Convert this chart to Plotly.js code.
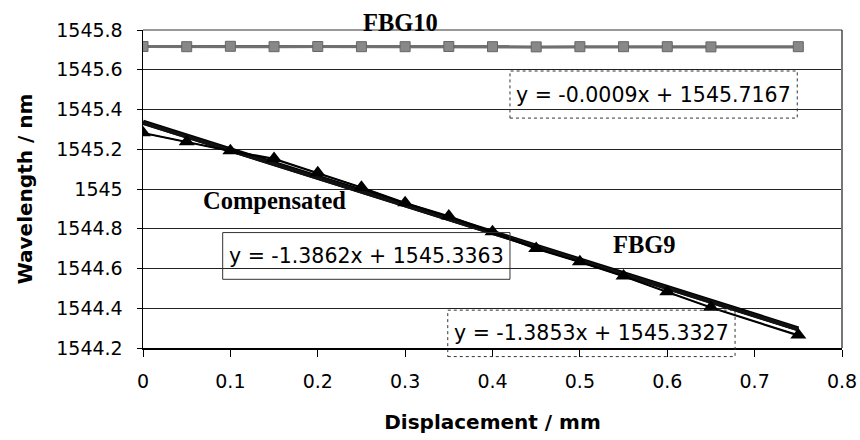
<!DOCTYPE html>
<html>
<head>
<meta charset="utf-8">
<script src="https://cdn.plot.ly/plotly-3.0.1.min.js"></script>
<style>html,body{margin:0;padding:0;background:#fff;}#chart{width:860px;height:440px;}</style>
</head>
<body>
<div id="chart"></div>
<script>
// Data
const displacement = [0, 0.05, 0.1, 0.15, 0.2, 0.25, 0.3, 0.35, 0.4, 0.45, 0.5, 0.55, 0.6, 0.65, 0.75];
const fbg10 = [1545.717, 1545.716, 1545.718, 1545.716, 1545.717, 1545.716, 1545.716, 1545.717, 1545.716, 1545.715, 1545.716, 1545.716, 1545.716, 1545.715, 1545.716];
const fbg9 = [1545.283, 1545.238, 1545.193, 1545.154, 1545.082, 1545.009, 1544.931, 1544.864, 1544.785, 1544.701, 1544.634, 1544.562, 1544.483, 1544.405, 1544.265];
const compensated = [1545.280, 1545.235, 1545.190, 1545.150, 1545.079, 1545.006, 1544.928, 1544.861, 1544.781, 1544.698, 1544.631, 1544.559, 1544.480, 1544.402, 1544.262];
// Trendline coefficients [slope, intercept]
const trendFBG10 = [-0.0009, 1545.7167];
const trendFBG9 = [-1.3862, 1545.3363];
const trendComp = [-1.3853, 1545.3327];
const trendX = [0, 0.75];
const xTicks = [0, 0.1, 0.2, 0.3, 0.4, 0.5, 0.6, 0.7, 0.8];
const xTickText = ['0', '0.1', '0.2', '0.3', '0.4', '0.5', '0.6', '0.7', '0.8'];
const yTicks = [1544.2, 1544.4, 1544.6, 1544.8, 1545.0, 1545.2, 1545.4, 1545.6, 1545.8];
const yTickText = ['1544.2', '1544.4', '1544.6', '1544.8', '1545', '1545.2', '1545.4', '1545.6', '1545.8'];
const eqFBG10 = 'y = -0.0009x + 1545.7167';
const eqFBG9 = 'y = -1.3862x + 1545.3363';
const eqComp = 'y = -1.3853x + 1545.3327';

function trendY(c) { return trendX.map(x => c[0] * x + c[1]); }

const traces = [
  {x: trendX, y: trendY(trendFBG10), mode: 'lines', line: {color: '#555', width: 3}, hoverinfo: 'skip'},
  {x: displacement, y: fbg10, mode: 'lines+markers', line: {color: '#707070', width: 3},
   marker: {symbol: 'square', size: 10, color: '#888', line: {color: '#666', width: 1}}},
  {x: trendX, y: trendY(trendFBG9), mode: 'lines', line: {color: '#000', width: 5}, hoverinfo: 'skip'},
  {x: trendX, y: trendY(trendComp), mode: 'lines', line: {color: '#111', width: 4}, hoverinfo: 'skip'},
  {x: displacement, y: compensated, mode: 'lines', line: {color: '#000', width: 1.5}},
  {x: displacement, y: fbg9, mode: 'lines+markers', line: {color: '#000', width: 1.5},
   marker: {symbol: 'triangle-up', size: 14, color: '#000'}}
];

const tf = {family: 'DejaVu Sans, sans-serif', size: 19, color: '#000'};
const ef = {family: 'DejaVu Sans, sans-serif', size: 20.5, color: '#000'};
const ttf = {family: 'DejaVu Sans, sans-serif', size: 20, color: '#000'};
const sf = {family: 'Liberation Serif, Times New Roman, serif', size: 24.5, color: '#000'};

function ann(x, y, text, font) {
  return {xref: 'paper', yref: 'paper', x: x, y: y, xanchor: 'center', yanchor: 'middle', text: text, showarrow: false, font: font};
}

const layout = {
  width: 860, height: 440,
  margin: {l: 143, r: 18, t: 30, b: 92},
  paper_bgcolor: '#fff', plot_bgcolor: '#fff',
  showlegend: false,
  font: tf,
  xaxis: {
    range: [0, 0.8], tickvals: xTicks, ticktext: xTickText,
    showgrid: false, zeroline: false, showline: true, linecolor: '#000', linewidth: 1.5,
    ticks: 'outside', ticklen: 7, tickcolor: '#000', tickfont: tf, ticklabelstandoff: 9,
    title: {text: '<b>Displacement / mm</b>', font: ttf, standoff: 23}
  },
  yaxis: {
    range: [1544.2, 1545.8], tickvals: yTicks, ticktext: yTickText,
    showgrid: true, gridcolor: '#222', gridwidth: 1, zeroline: false,
    showline: true, linecolor: '#000', linewidth: 1.5,
    ticks: 'outside', ticklen: 5, tickcolor: '#000', tickfont: tf, ticklabelstandoff: 10,
    title: {text: '<b>Wavelength / nm</b>', font: ttf, standoff: 18}
  },
  shapes: [
    {type: 'line', xref: 'paper', yref: 'paper', x0: 1, x1: 1, y0: 0, y1: 1, line: {color: '#777', width: 2}},
    {type: 'line', xref: 'paper', yref: 'paper', x0: 0, x1: 1, y0: 1, y1: 1, line: {color: '#333', width: 1}},
    {type: 'rect', xref: 'paper', yref: 'paper', x0: 0.525, x1: 0.936, y0: 0.723, y1: 0.871, line: {color: '#333', width: 1, dash: 'dot'}},
    {type: 'rect', xref: 'paper', yref: 'paper', x0: 0.114, x1: 0.525, y0: 0.216, y1: 0.363, line: {color: '#333', width: 1}},
    {type: 'rect', xref: 'paper', yref: 'paper', x0: 0.436, x1: 0.847, y0: -0.027, y1: 0.119, line: {color: '#333', width: 1, dash: 'dot'}}
  ],
  annotations: [
    ann(0.369, 1.0236, '<b>FBG10</b>', sf),
    ann(0.1888, 0.4654, '<b>Compensated</b>', sf),
    ann(0.718, 0.324, '<b>FBG9</b>', sf),
    ann(0.7303, 0.797, eqFBG10, ef),
    ann(0.3195, 0.2895, eqFBG9, ef),
    ann(0.6415, 0.046, eqComp, ef)
  ]
};

Plotly.newPlot('chart', traces, layout, {staticPlot: true, displayModeBar: false});
</script>
</body>
</html>
